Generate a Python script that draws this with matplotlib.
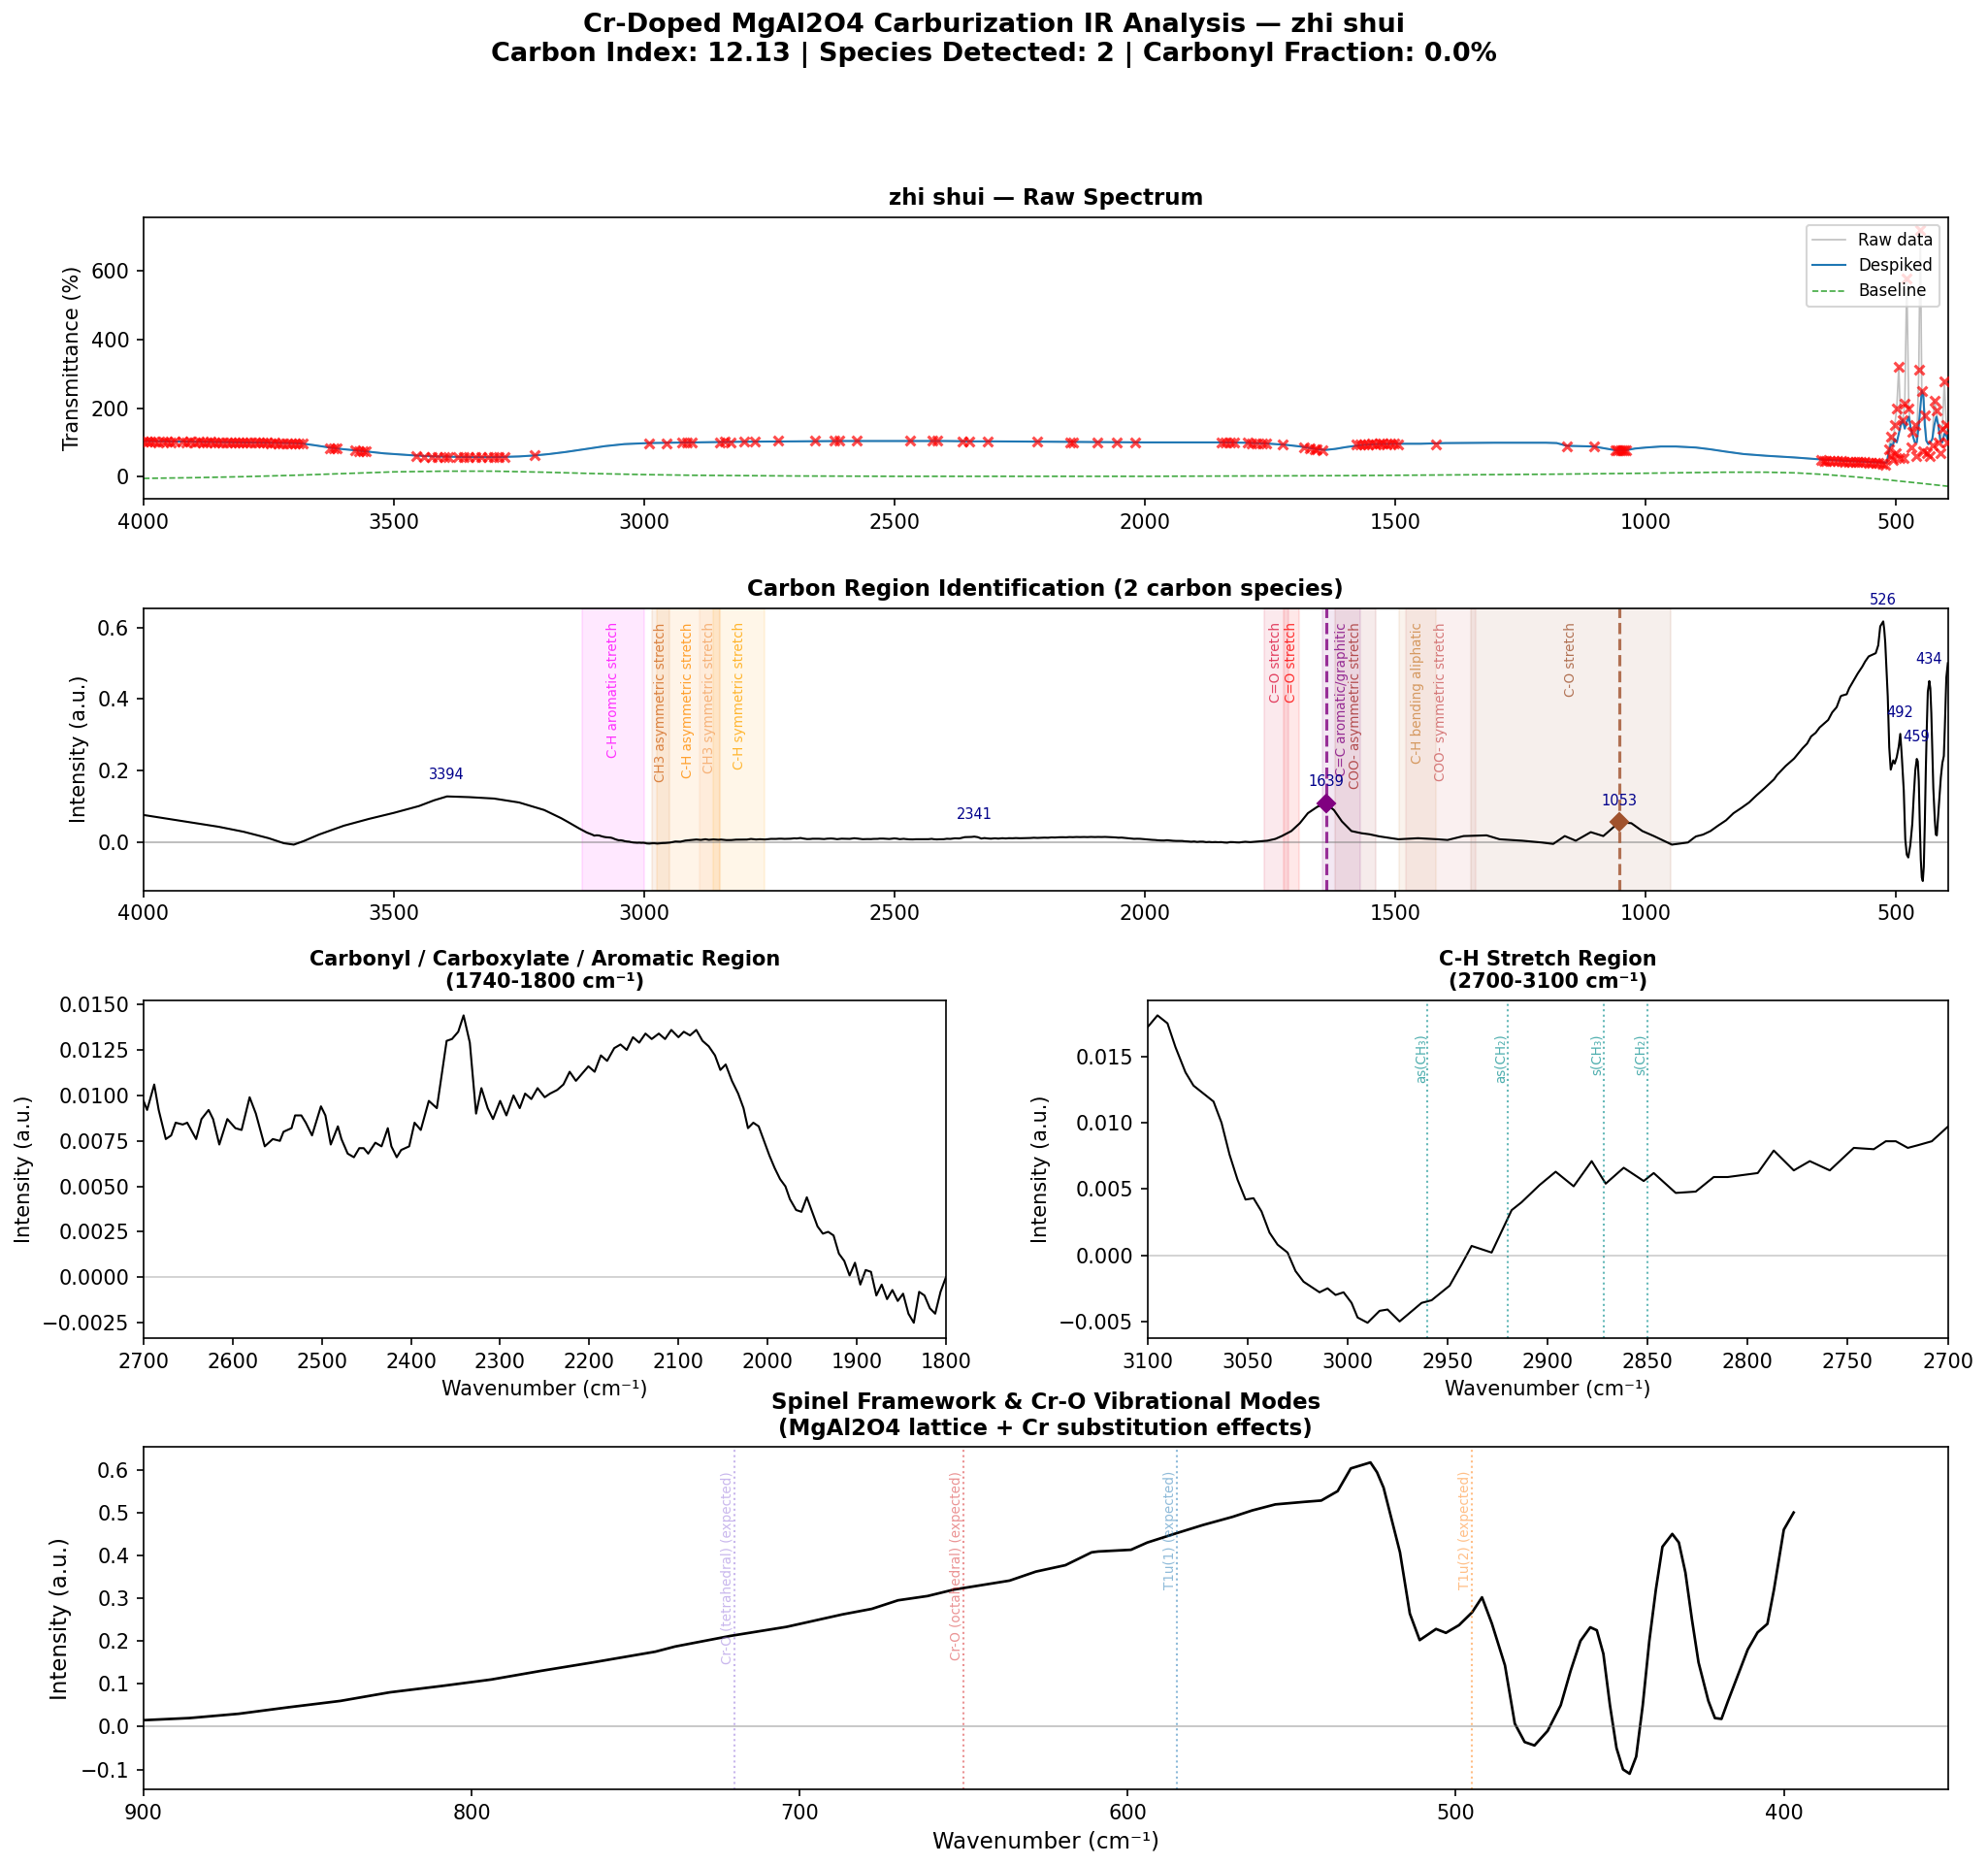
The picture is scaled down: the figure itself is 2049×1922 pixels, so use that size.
import numpy as np
import matplotlib
matplotlib.use("Agg")
import matplotlib.pyplot as plt

sample = "zhi shui"
carbon_index = 12.13
n_species = 2
carbonyl_frac = 0.0

# ---- baseline-corrected intensity ----
hi_wn = [4000, 3950, 3900, 3850, 3800, 3750, 3720, 3700, 3680, 3650, 3600, 3550, 3500, 3450,
         3420, 3394, 3350, 3300, 3250, 3200, 3166, 3152, 3131, 3115, 3104]
hi_int = [0.075, 0.064, 0.053, 0.042, 0.028, 0.010, -0.004, -0.008, 0.002, 0.020, 0.045, 0.064,
          0.081, 0.100, 0.116, 0.127, 0.125, 0.121, 0.110, 0.089, 0.066, 0.055, 0.038, 0.026, 0.020]

ch_wn = [3100, 3095, 3090, 3086, 3081, 3077, 3072, 3067, 3063, 3059, 3055, 3051, 3047, 3043, 3039,
         3035, 3030, 3026, 3022, 3018, 3014, 3010, 3006, 3002, 2998, 2995, 2990, 2984, 2980, 2974,
         2963, 2958, 2949, 2943, 2938, 2928, 2923, 2918, 2913, 2904, 2896, 2887, 2878, 2871, 2862,
         2852, 2847, 2836, 2826, 2817, 2810, 2795, 2787, 2777, 2769, 2759, 2747, 2737, 2731, 2726,
         2720, 2715, 2708]
ch_int = [0.0172, 0.0181, 0.0175, 0.0157, 0.0138, 0.0128, 0.0122, 0.0116, 0.0100, 0.0076, 0.0057,
          0.0042, 0.0043, 0.0033, 0.0017, 0.0008, 0.0002, -0.0012, -0.0020, -0.0024, -0.0028,
          -0.0025, -0.0030, -0.0028, -0.0036, -0.0047, -0.0051, -0.0042, -0.0041, -0.0050,
          -0.0036, -0.0034, -0.0023, -0.0007, 0.0007, 0.0002, 0.0018, 0.0034, 0.0040, 0.0053,
          0.0063, 0.0052, 0.0071, 0.0054, 0.0066, 0.0056, 0.0062, 0.0047, 0.0048, 0.0059, 0.0059,
          0.0062, 0.0079, 0.0064, 0.0071, 0.0064, 0.0081, 0.0080, 0.0086, 0.0086, 0.0081, 0.0083,
          0.0086]

mid_wn = [2700, 2696, 2688, 2683, 2675, 2669, 2664, 2656, 2651, 2641, 2635, 2627, 2622, 2615, 2606,
          2597, 2590, 2581, 2574, 2564, 2555, 2547, 2543, 2534, 2530, 2523, 2518, 2511, 2501, 2496,
          2490, 2482, 2478, 2471, 2464, 2458, 2453, 2448, 2440, 2433, 2426, 2422, 2416, 2411, 2402,
          2396, 2389, 2380, 2371, 2360, 2354, 2347, 2341, 2334, 2327, 2321, 2314, 2308, 2300, 2293,
          2285, 2278, 2272, 2265, 2258, 2250, 2244, 2236, 2229, 2222, 2215, 2208, 2201, 2194, 2187,
          2180, 2172, 2165, 2158, 2151, 2144, 2137, 2130, 2122, 2115, 2108, 2100, 2094, 2087, 2080,
          2073, 2066, 2059, 2053, 2047, 2040, 2033, 2027, 2022, 2016, 2010, 2004, 1998, 1992, 1986,
          1980, 1975, 1968, 1962, 1956, 1950, 1944, 1938, 1932, 1926, 1920, 1914, 1908, 1902, 1896,
          1890, 1884, 1878, 1872, 1866, 1860, 1854, 1848, 1842, 1836, 1830, 1824, 1818, 1812, 1806,
          1800]
mid_int = [0.0097, 0.0092, 0.0106, 0.0092, 0.0076, 0.0078, 0.0085, 0.0084, 0.0085, 0.0076, 0.0087,
           0.0092, 0.0087, 0.0073, 0.0087, 0.0082, 0.0081, 0.0099, 0.0090, 0.0072, 0.0076, 0.0075,
           0.0080, 0.0082, 0.0089, 0.0089, 0.0085, 0.0078, 0.0094, 0.0089, 0.0073, 0.0083, 0.0076,
           0.0068, 0.0066, 0.0071, 0.0071, 0.0068, 0.0074, 0.0072, 0.0082, 0.0072, 0.0066, 0.0070,
           0.0072, 0.0085, 0.0081, 0.0097, 0.0093, 0.0130, 0.0131, 0.0135, 0.0144, 0.0129, 0.0090,
           0.0104, 0.0093, 0.0087, 0.0097, 0.0089, 0.0100, 0.0093, 0.0101, 0.0098, 0.0104, 0.0099,
           0.0101, 0.0103, 0.0106, 0.0113, 0.0108, 0.0112, 0.0116, 0.0113, 0.0122, 0.0119, 0.0126,
           0.0128, 0.0125, 0.0132, 0.0129, 0.0134, 0.0131, 0.0134, 0.0131, 0.0136, 0.0132, 0.0135,
           0.0133, 0.0136, 0.0130, 0.0127, 0.0122, 0.0114, 0.0117, 0.0108, 0.0101, 0.0093, 0.0082,
           0.0085, 0.0083, 0.0075, 0.0067, 0.0060, 0.0054, 0.0050, 0.0043, 0.0037, 0.0036, 0.0044,
           0.0036, 0.0028, 0.0024, 0.0025, 0.0023, 0.0013, 0.0009, 0.0001, 0.0008, -0.0004, 0.0004,
           0.0003, -0.0010, -0.0004, -0.0012, -0.0007, -0.0013, -0.0009, -0.0020, -0.0025, -0.0008,
           -0.0010, -0.0017, -0.0020, -0.0008, 0.0000]

fp_wn = [1790, 1756, 1740, 1727, 1708, 1691, 1675, 1656, 1639, 1623, 1607, 1588, 1568, 1552, 1532,
         1494, 1455, 1416, 1396, 1364, 1318, 1292, 1247, 1208, 1185, 1162, 1140, 1110, 1085, 1053,
         1029, 1007, 984, 948, 916, 905]
fp_int = [-0.001, 0.003, 0.008, 0.016, 0.030, 0.052, 0.080, 0.098, 0.107, 0.089, 0.057, 0.030,
          0.024, 0.021, 0.015, 0.007, 0.010, 0.007, 0.005, 0.016, 0.018, 0.007, 0.003, -0.002,
          -0.006, 0.016, 0.003, 0.027, 0.016, 0.055, 0.052, 0.030, 0.016, -0.008, -0.002, 0.010]

sp_wn = [900, 886, 871, 856, 840, 825, 809, 794, 779, 763, 744, 738, 721, 704, 687, 678, 670, 661,
         653, 636, 628, 619, 611, 609, 599, 594, 585, 577, 568, 562, 555, 546, 541, 536, 532, 526,
         524, 522, 517, 514, 511, 506, 503, 499, 495, 492, 489, 485, 482, 479, 476, 472, 468, 465,
         462, 459, 457, 455, 453, 451, 449, 447, 445, 443, 441, 439, 437, 434, 432, 430, 428, 426,
         423, 421, 419, 417, 414, 411, 408, 405, 403, 400, 397]
sp_int = [0.015, 0.020, 0.030, 0.045, 0.060, 0.080, 0.095, 0.110, 0.130, 0.150, 0.175, 0.187,
          0.212, 0.233, 0.262, 0.275, 0.295, 0.305, 0.320, 0.341, 0.362, 0.377, 0.407, 0.409, 0.413,
          0.430, 0.452, 0.471, 0.490, 0.505, 0.519, 0.525, 0.528, 0.550, 0.603, 0.617, 0.594, 0.558,
          0.407, 0.264, 0.202, 0.228, 0.219, 0.237, 0.267, 0.302, 0.241, 0.143, 0.007, -0.036,
          -0.044, -0.010, 0.050, 0.130, 0.200, 0.232, 0.225, 0.170, 0.050, -0.050, -0.100, -0.110,
          -0.070, 0.050, 0.200, 0.320, 0.420, 0.450, 0.430, 0.360, 0.250, 0.150, 0.060, 0.020,
          0.018, 0.060, 0.120, 0.180, 0.220, 0.240, 0.320, 0.460, 0.500]

# ---- transmittance (%) ----
t_wn = [4000, 3950, 3900, 3850, 3800, 3750, 3700, 3685, 3660, 3624, 3600, 3564, 3520, 3460, 3420,
        3382, 3340, 3295, 3250, 3218, 3190, 3157, 3120, 3079, 3040, 2993, 2950, 2900, 2850, 2800,
        2700, 2600, 2500, 2400, 2341, 2300, 2200, 2100, 2000, 1900, 1850, 1800, 1760, 1720, 1690,
        1660, 1640, 1620, 1600, 1570, 1540, 1500, 1450, 1400, 1300, 1200, 1178, 1158, 1130, 1104,
        1080, 1056, 1040, 1022, 1000, 970, 940, 900, 872, 840, 805, 760, 703, 648, 600, 567, 540,
        519]
t_desp = [104, 103, 102, 101, 100, 99, 98, 97, 92, 84, 80, 75, 68, 62, 59, 58, 57, 57, 59, 62, 66,
          72, 80, 89, 95, 98, 99, 100, 101, 102, 103, 104, 104, 104, 103, 103, 102, 101, 100, 100,
          100, 99, 97, 93, 88, 81, 78, 81, 86, 92, 95, 96, 96, 98, 99, 99, 98, 90, 89, 88, 82, 76,
          77, 82, 85, 88, 88, 85, 80, 73, 66, 61, 56, 50, 46, 44, 42, 41]
tail_wn = [515, 511, 507, 503, 499, 495, 491, 487, 483, 479, 475, 471, 467, 463, 459, 455, 452, 449,
           446, 443, 440, 436, 432, 428, 424, 420, 416, 412, 408, 404, 400, 397]
tail_desp = [70, 95, 90, 110, 100, 125, 150, 165, 140, 160, 175, 140, 120, 100, 100, 150, 200, 250,
             240, 150, 105, 95, 100, 110, 150, 175, 150, 105, 100, 125, 120, 108]
tail_raw = [80, 118, 90, 150, 200, 320, 150, 165, 212, 579, 200, 140, 130, 150, 100, 311, 720, 250,
            240, 180, 105, 95, 100, 110, 221, 193, 150, 105, 140, 278, 150, 108]

base_wn = [4000, 3900, 3800, 3700, 3600, 3500, 3400, 3300, 3200, 3100, 3000, 2900, 2700, 2500,
           2200, 2000, 1800, 1600, 1400, 1200, 1000, 900, 840, 760, 700, 640, 580, 520, 460, 397]
base_t = [-5, -3, 0, 4, 9, 14, 16, 16, 13, 9, 6, 4, 2, 1, 1, 1, 2, 3, 5, 7, 10, 12, 13, 13, 11, 6,
          -1, -9, -18, -28]

# flagged spike points
spike_wn = [4000, 3993, 3986, 3978, 3970, 3962, 3954, 3946, 3938, 3922, 3914, 3906, 3898, 3890,
            3882, 3874, 3866, 3858, 3850, 3842, 3834, 3826, 3818, 3810, 3802, 3794, 3786, 3778,
            3770, 3762, 3754, 3746, 3738, 3730, 3722, 3714, 3706, 3698, 3690, 3682,
            3628, 3620, 3614, 3578, 3570, 3562, 3556, 3455, 3440, 3425, 3412, 3400, 3392, 3372,
            3360, 3350, 3338, 3325, 3312, 3300, 3290, 3280, 3219, 2990, 2955, 2925, 2915, 2905,
            2850, 2840, 2828, 2800, 2780, 2733, 2660, 2620, 2610, 2575, 2470, 2425, 2415, 2365,
            2352, 2315, 2215, 2150, 2143, 2095, 2057, 2020, 1848, 1840, 1830, 1822, 1796, 1788,
            1778, 1766, 1758, 1725, 1683, 1672, 1662, 1657, 1645, 1578, 1570, 1562, 1555, 1548,
            1540, 1532, 1525, 1518, 1510, 1502, 1494, 1420, 1158, 1104, 1060, 1056, 1052, 1048,
            1044, 1040,
            650, 645, 640, 632, 625, 618, 610, 603, 596, 590, 583, 576, 570, 563, 556, 549, 542,
            535, 528, 522,
            515, 511, 510, 506, 503, 501, 499, 495, 493, 487, 485, 483, 479, 475, 470, 467, 463,
            461, 455, 452, 449, 446, 443, 438, 433, 428, 424, 420, 416, 412, 408, 404, 400, 398]
spike_t = [103, 102, 103, 102, 101, 103, 102, 101, 102, 102, 101, 102, 101, 102, 101, 101, 102,
           101, 100, 101, 100, 100, 101, 100, 99, 100, 100, 99, 99, 100, 99, 98, 99, 98, 98, 97,
           98, 97, 96, 96,
           84, 82, 83, 76, 74, 75, 73, 61, 58, 57, 56, 56, 56, 56, 56, 57, 56, 56, 57, 56, 57, 57,
           62, 97, 98, 99, 100, 100, 101, 102, 101, 103, 102, 104, 105, 104, 105, 104, 105, 104,
           104, 103, 103, 103, 102, 101, 101, 101, 100, 100, 100, 99, 100, 99, 99, 98, 98, 97, 96,
           93, 86, 83, 81, 80, 78, 93, 94, 95, 95, 96, 95, 96, 96, 95, 96, 96, 95, 95, 89, 88, 77,
           76, 77, 76, 77, 77,
           48, 47, 47, 46, 46, 45, 45, 44, 44, 44, 43, 43, 42, 42, 41, 41, 40, 39, 38, 36,
           80, 118, 60, 50, 150, 70, 200, 320, 55, 165, 55, 212, 579, 200, 85, 130, 150, 60, 311,
           720, 250, 75, 180, 70, 60, 90, 221, 193, 100, 70, 140, 278, 150, 100]

# functional-group bands: (low, high, label, colour)
band_lo = [3000, 2950, 2850, 2850, 2760, 1713, 1692, 1570, 1540, 1420, 1340, 950]
band_hi = [3125, 2985, 2975, 2890, 2862, 1763, 1724, 1645, 1621, 1492, 1480, 1350]
band_label = ["C-H aromatic stretch", "CH3 asymmetric stretch", "C-H asymmetric stretch",
              "CH3 symmetric stretch", "C-H symmetric stretch", "C=O stretch", "C=O stretch",
              "C=C aromatic/graphitic", "COO- asymmetric stretch", "C-H bending aliphatic",
              "COO- symmetric stretch", "C-O stretch"]
band_color = ["magenta", "chocolate", "darkorange", "sandybrown", "orange", "crimson", "red",
              "purple", "brown", "peru", "indianred", "sienna"]

species_wn = [1639, 1053]
species_color = ["purple", "sienna"]
peak_wn = [3394, 2341, 1639, 1053, 526, 492, 459, 434]

ch_mode_wn = [2960, 2920, 2872, 2850]
ch_mode_label = ["as(CH₃)", "as(CH₂)", "s(CH₃)", "s(CH₂)"]

spinel_wn = [720, 650, 585, 495]
spinel_label = ["Cr-O (tetrahedral) (expected)", "Cr-O (octahedral) (expected)",
                "T1u(1) (expected)", "T1u(2) (expected)"]
spinel_color = ["mediumpurple", "tab:red", "tab:blue", "tab:orange"]

wn = np.array(hi_wn + ch_wn + mid_wn + fp_wn + sp_wn, dtype=float)
inten = np.array(hi_int + ch_int + mid_int + fp_int + sp_int)
t_all_wn = np.array(t_wn + tail_wn, dtype=float)
desp = np.array(t_desp + tail_desp, dtype=float)
raw = np.array(t_desp + tail_raw, dtype=float)

plt.rcParams["font.size"] = 10
fig = plt.figure(figsize=(2049 / 150, 1922 / 150), dpi=150)
fig.suptitle(f"Cr-Doped MgAl2O4 Carburization IR Analysis — {sample}\n"
             f"Carbon Index: {carbon_index:.2f} | Species Detected: {n_species} | "
             f"Carbonyl Fraction: {carbonyl_frac:.1f}%",
             fontsize=13, fontweight="bold", y=0.993, va="top")

# %% raw spectrum
ax1 = fig.add_axes([0.0722, 0.7324, 0.9076, 0.1512])
ax1.plot(t_all_wn, raw, color="gray", lw=0.8, alpha=0.5, label="Raw data")
ax1.plot(t_all_wn, desp, color="tab:blue", lw=1.0, label="Despiked")
ax1.plot(base_wn, base_t, color="tab:green", ls="--", lw=0.8, alpha=0.9, label="Baseline")
ax1.scatter(spike_wn, spike_t, marker="x", color="red", s=22, linewidths=1.5, alpha=0.7, zorder=5)
ax1.set_xlim(4000, 397)
ax1.set_ylabel("Transmittance (%)")
ax1.set_title(f"{sample} — Raw Spectrum", fontsize=11, fontweight="bold")
ax1.legend(loc="upper right", fontsize=8)

# %% carbon regions
ax2 = fig.add_axes([0.0722, 0.5226, 0.9076, 0.1513])
trans2 = ax2.get_xaxis_transform()
for lo, hi, lab, c in zip(band_lo, band_hi, band_label, band_color):
    ax2.axvspan(lo, hi, color=c, alpha=0.09, lw=1)
    ax2.text((lo + hi) / 2, 0.95, lab, transform=trans2, rotation=90, ha="center", va="top",
             fontsize=6.5, color=c, alpha=0.8)
ax2.axhline(0, color="gray", lw=0.8, alpha=0.6)
ax2.plot(wn, inten, color="black", lw=1.0)
for p, c in zip(species_wn, species_color):
    y = inten[wn == p][0]
    ax2.axvline(p, color=c, ls="--", lw=1.5, alpha=0.8)
    ax2.plot(p, y, marker="D", color=c, markersize=6, zorder=5)
for p in peak_wn:
    y = inten[wn == p][0]
    ax2.text(p, y + 0.04, str(p), ha="center", va="bottom", fontsize=7, color="darkblue",
             clip_on=False)
ax2.set_xlim(4000, 397)
ax2.set_ylim(-0.136, 0.654)
ax2.set_ylabel("Intensity (a.u.)")
ax2.set_title(f"Carbon Region Identification ({n_species} carbon species)", fontsize=11,
              fontweight="bold")

# %% carbonyl / aromatic zoom
ax3 = fig.add_axes([0.0722, 0.2825, 0.4036, 0.1813])
sel = (wn <= 2700) & (wn >= 1800)
ax3.plot(wn[sel], inten[sel], color="black", lw=1.0)
ax3.axhline(0, color="gray", lw=0.8, alpha=0.4)
ax3.set_xlim(2700, 1800)
ax3.set_xlabel("Wavenumber (cm⁻¹)")
ax3.set_ylabel("Intensity (a.u.)")
ax3.set_title("Carbonyl / Carboxylate / Aromatic Region\n(1740-1800 cm⁻¹)", fontsize=10,
              fontweight="bold")

# %% C-H stretch zoom
ax4 = fig.add_axes([0.5772, 0.2825, 0.4026, 0.1813])
sel = (wn <= 3100) & (wn >= 2700)
ax4.plot(wn[sel], inten[sel], color="black", lw=1.0)
ax4.axhline(0, color="gray", lw=0.8, alpha=0.4)
trans4 = ax4.get_xaxis_transform()
for w, lab in zip(ch_mode_wn, ch_mode_label):
    ax4.axvline(w, color="darkcyan", ls=":", lw=1.0, alpha=0.6)
    ax4.text(w, 0.9, lab, transform=trans4, rotation=90, ha="right", va="top", fontsize=6.5,
             color="darkcyan", alpha=0.7)
ax4.set_xlim(3100, 2700)
ax4.set_xlabel("Wavenumber (cm⁻¹)")
ax4.set_ylabel("Intensity (a.u.)")
ax4.set_title("C-H Stretch Region\n(2700-3100 cm⁻¹)", fontsize=10, fontweight="bold")

# %% spinel framework
ax5 = fig.add_axes([0.0722, 0.0406, 0.9076, 0.1836])
sel = wn <= 900
ax5.plot(wn[sel], inten[sel], color="black", lw=1.3)
ax5.axhline(0, color="gray", lw=0.8, alpha=0.5)
trans5 = ax5.get_xaxis_transform()
for w, lab, c in zip(spinel_wn, spinel_label, spinel_color):
    ax5.axvline(w, color=c, ls=":", lw=1.0, alpha=0.5)
    ax5.text(w, 0.93, lab, transform=trans5, rotation=90, ha="right", va="top", fontsize=6.5,
             color=c, alpha=0.5)
ax5.set_xlim(900, 350)
ax5.set_xlabel("Wavenumber (cm⁻¹)", fontsize=11)
ax5.set_ylabel("Intensity (a.u.)", fontsize=11)
ax5.set_title("Spinel Framework & Cr-O Vibrational Modes\n(MgAl2O4 lattice + Cr substitution effects)",
              fontsize=11, fontweight="bold")

fig.savefig("out.png", dpi=150)
